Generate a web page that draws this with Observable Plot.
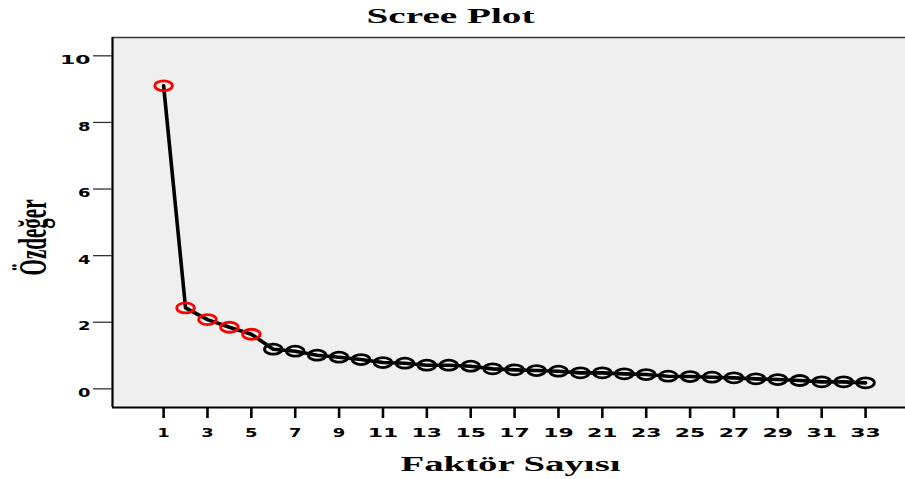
<!DOCTYPE html>
<html>
<head>
<meta charset="utf-8">
<script src="https://cdn.jsdelivr.net/npm/d3@7"></script>
<script src="https://cdn.jsdelivr.net/npm/@observablehq/plot@0.6"></script>
<style>
  html, body { margin: 0; padding: 0; background: #ffffff; }
</style>
</head>
<body>
<div id="chart"></div>
<script>
const titleText = "Scree Plot";
const xLabel = "Faktör Sayısı";
const yLabel = "Özdeğer";
const factors = [1,2,3,4,5,6,7,8,9,10,11,12,13,14,15,16,17,18,19,20,21,22,23,24,25,26,27,28,29,30,31,32,33];
const eigenvalues = [9.10,2.43,2.08,1.85,1.64,1.19,1.13,1.01,0.95,0.88,0.79,0.77,0.71,0.71,0.68,0.60,0.57,0.55,0.53,0.48,0.48,0.45,0.43,0.38,0.37,0.35,0.33,0.30,0.28,0.25,0.21,0.21,0.18];
const highlightedFactors = [1,2,3,4,5];
const xTicks = [1,3,5,7,9,11,13,15,17,19,21,23,25,27,29,31,33];
const yTicks = [0,2,4,6,8,10];

const data = factors.map((f, i) => ({factor: f, value: eigenvalues[i], highlighted: highlightedFactors.includes(f)}));

const xDomain = [-1.33, 34.82];
const yDomain = [-0.56, 10.55];

// ellipse symbol (horizontally elongated circle)
const ellipse = {
  draw(ctx, size) {
    const r = Math.sqrt(size / Math.PI);
    const a = r * 1.75, b = r, k = 0.5523;
    ctx.moveTo(a, 0);
    ctx.bezierCurveTo(a, k * b, k * a, b, 0, b);
    ctx.bezierCurveTo(-k * a, b, -a, k * b, -a, 0);
    ctx.bezierCurveTo(-a, -k * b, -k * a, -b, 0, -b);
    ctx.bezierCurveTo(k * a, -b, a, -k * b, a, 0);
    ctx.closePath();
  }
};

const serif = "'Liberation Serif', 'DejaVu Serif', serif";

const chart = Plot.plot({
  width: 905,
  height: 479,
  marginLeft: 112,
  marginRight: 0,
  marginTop: 37,
  marginBottom: 72,
  style: {background: "#ffffff", fontFamily: "'DejaVu Sans', sans-serif", color: "black", overflow: "visible"},
  x: {domain: xDomain},
  y: {domain: yDomain},
  marks: [
    Plot.frame({fill: "#efefef", stroke: "none"}),
    Plot.ruleY([yDomain[1]], {stroke: "#3a3a3a", strokeWidth: 1.6}),
    Plot.ruleX([xDomain[0]], {stroke: "black", strokeWidth: 2.2}),
    Plot.ruleY([yDomain[0]], {stroke: "black", strokeWidth: 2.2}),
    Plot.axisY(yTicks, {tickSize: 19, tickPadding: 3, stroke: "#333", strokeWidth: 1.3, fill: "black",
      fontSize: 11.5, fontWeight: "bold", lineAnchor: "top", label: null}),
    Plot.axisX(xTicks, {tickSize: 11, tickPadding: 10, stroke: "black", strokeWidth: 2.6, fill: "black",
      fontSize: 11.5, fontWeight: "bold", label: null}),
    Plot.line(data, {x: "factor", y: "value", stroke: "black", strokeWidth: 3.6, strokeLinejoin: "round"}),
    Plot.dot(data, {filter: d => !d.highlighted, x: "factor", y: "value", r: 5, symbol: ellipse, stroke: "black", strokeWidth: 2.8, fill: "none"}),
    Plot.dot(data, {filter: d => d.highlighted, x: "factor", y: "value", r: 5, symbol: ellipse, stroke: "#ff0000", strokeWidth: 2.8, fill: "none"}),
    Plot.text([titleText], {frameAnchor: "top", textAnchor: "middle", lineAnchor: "bottom", dx: -58.5, dy: -15,
      fontFamily: serif, fontWeight: "bold", fontSize: 22, fill: "black"}),
    Plot.text([xLabel], {frameAnchor: "bottom", textAnchor: "middle", lineAnchor: "bottom", dx: 1.5, dy: 63,
      fontFamily: serif, fontWeight: "bold", fontSize: 20, fill: "black"}),
    Plot.text([yLabel], {frameAnchor: "left", textAnchor: "start", lineAnchor: "bottom", rotate: -90, dx: -67, dy: 53,
      fontFamily: serif, fontWeight: "bold", fontSize: 40, fill: "black"})
  ]
});

document.getElementById("chart").appendChild(chart);

// stretch texts to match the original's glyph proportions
const lengths = {};
lengths[titleText] = 168;
lengths[xLabel] = 220;
lengths[yLabel] = 76;
d3.select(chart).selectAll("text").each(function () {
  const t = this.textContent.trim();
  let L = null;
  if (t in lengths) L = lengths[t];
  else if (/^\d+$/.test(t)) L = t.length === 1 ? 12.5 : 30.5;
  if (L) {
    this.setAttribute("textLength", L);
    this.setAttribute("lengthAdjust", "spacingAndGlyphs");
  }
});
</script>
</body>
</html>
